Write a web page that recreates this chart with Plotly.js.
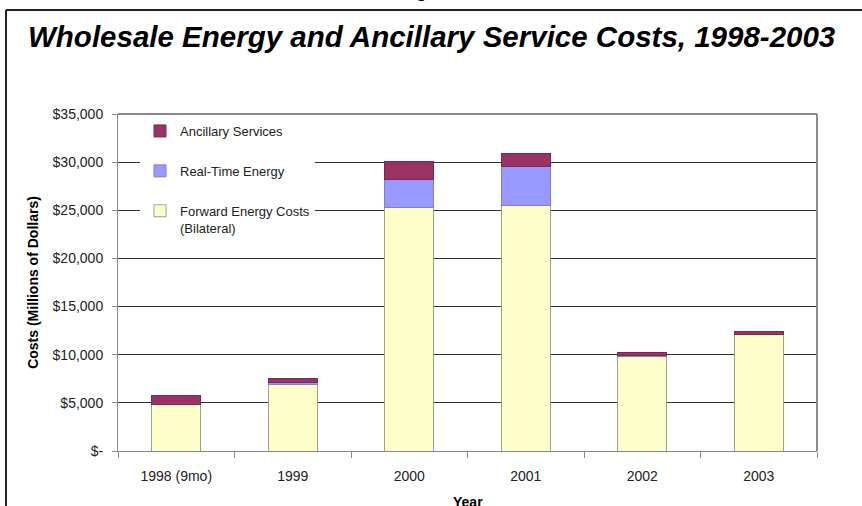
<!DOCTYPE html>
<html>
<head>
<meta charset="utf-8">
<script src="https://cdn.plot.ly/plotly-3.0.1.min.js"></script>
<style>html,body{margin:0;padding:0;background:#fff;}#chart{width:862px;height:506px;}</style>
</head>
<body>
<div id="chart"></div>
<script>
// Data (millions of dollars)
const years = ["1998 (9mo)", "1999", "2000", "2001", "2002", "2003"];
const forwardEnergy = [4800, 6900, 25300, 25500, 9850, 12050];
const realTimeEnergy = [0, 200, 2850, 4000, 50, 100];
const ancillaryServices = [1000, 450, 1900, 1450, 300, 300];
const yTickVals = [0, 5000, 10000, 15000, 20000, 25000, 30000, 35000];
const yTickText = ["$-", "$5,000", "$10,000", "$15,000", "$20,000", "$25,000", "$30,000", "$35,000"];

const font = "Liberation Sans, Arial, sans-serif";
const lineCol = "#8a8a8a";

const traces = [
  {type: "bar", name: "Forward Energy Costs<br>(Bilateral)", x: years, y: forwardEnergy,
   legendgroup: "f", legendrank: 3, marker: {color: "#FFFFCC", line: {color: "#a0a080", width: 1}}},
  {type: "bar", name: "Real-Time Energy", x: years, y: realTimeEnergy,
   legendgroup: "r", legendrank: 2, marker: {color: "#9999FF", line: {color: "#7f7fcc", width: 1}}},
  {type: "bar", name: "Ancillary Services", x: years, y: ancillaryServices,
   legendgroup: "a", legendrank: 1, marker: {color: "#993366", line: {color: "#7a2a52", width: 1}}}
];

const L = 118, R = 817, T = 114, B = 451, W = 862, H = 506;
const px = v => (v - L) / (R - L);
const py = v => (B - v) / (B - T);

const layout = {
  width: W, height: H,
  margin: {l: L, r: W - R, t: T, b: H - B, pad: 0},
  paper_bgcolor: "#fff", plot_bgcolor: "#fff",
  barmode: "stack", bargap: 0.58,
  showlegend: true,
  font: {family: font, size: 13, color: "#222"},
  title: {
    text: "<b><i>Wholesale Energy and Ancillary Service Costs, 1998-2003</i></b>",
    font: {family: font, size: 29.5, color: "#000"},
    xref: "container", x: 28 / W, xanchor: "left",
    yref: "container", y: 1 - 37 / H, yanchor: "middle"
  },
  legend: {
    x: px(140), y: py(116), xanchor: "left", yanchor: "top",
    bgcolor: "#fff", borderwidth: 0,
    traceorder: "grouped", tracegroupgap: 20,
    valign: "top", itemwidth: 30,
    font: {family: font, size: 13, color: "#222"}
  },
  xaxis: {
    type: "category", tickson: "boundaries", ticks: "outside", ticklen: 6,
    tickcolor: lineCol, showline: true, linecolor: lineCol, linewidth: 1,
    showgrid: false, tickfont: {family: font, size: 14, color: "#222"},
    ticklabelstandoff: 12,
    fixedrange: true
  },
  yaxis: {
    range: [0, 35000], tickvals: yTickVals, ticktext: yTickText,
    ticks: "outside", ticklen: 5, tickcolor: lineCol,
    showline: true, linecolor: lineCol, linewidth: 1,
    showgrid: true, gridcolor: "#333", gridwidth: 1,
    zeroline: false, tickfont: {family: font, size: 14, color: "#222"},
    ticklabelstandoff: 6,
    title: {text: "<b>Costs (Millions of Dollars)</b>", font: {family: font, size: 14, color: "#000"}, standoff: 10},
    fixedrange: true
  },
  shapes: [
    {type: "line", xref: "paper", yref: "paper", x0: 0, x1: 1, y0: 1, y1: 1, line: {color: lineCol, width: 2}},
    {type: "line", xref: "paper", yref: "paper", x0: 1, x1: 1, y0: 0, y1: 1, line: {color: lineCol, width: 2}},
    {type: "line", xref: "paper", yref: "paper", x0: px(6), x1: px(6), y0: py(H + 5), y1: py(10), line: {color: "#222", width: 2}},
    {type: "line", xref: "paper", yref: "paper", x0: px(6), x1: px(W + 5), y0: py(10), y1: py(10), line: {color: "#222", width: 2}}
  ],
  annotations: [
    {text: "<b>Figure 2</b>", xref: "paper", yref: "paper", x: px(431), y: py(3), xanchor: "center", yanchor: "bottom",
     showarrow: false, font: {family: "Liberation Serif, Times New Roman, serif", size: 16, color: "#000"}},
    {text: "<b>Year</b>", xref: "paper", yref: "paper", x: 0.5, y: py(492), xanchor: "center", yanchor: "top",
     showarrow: false, font: {family: font, size: 14, color: "#000"}}
  ]
};

Plotly.newPlot("chart", traces, layout, {displayModeBar: false, staticPlot: true});
</script>
</body>
</html>
